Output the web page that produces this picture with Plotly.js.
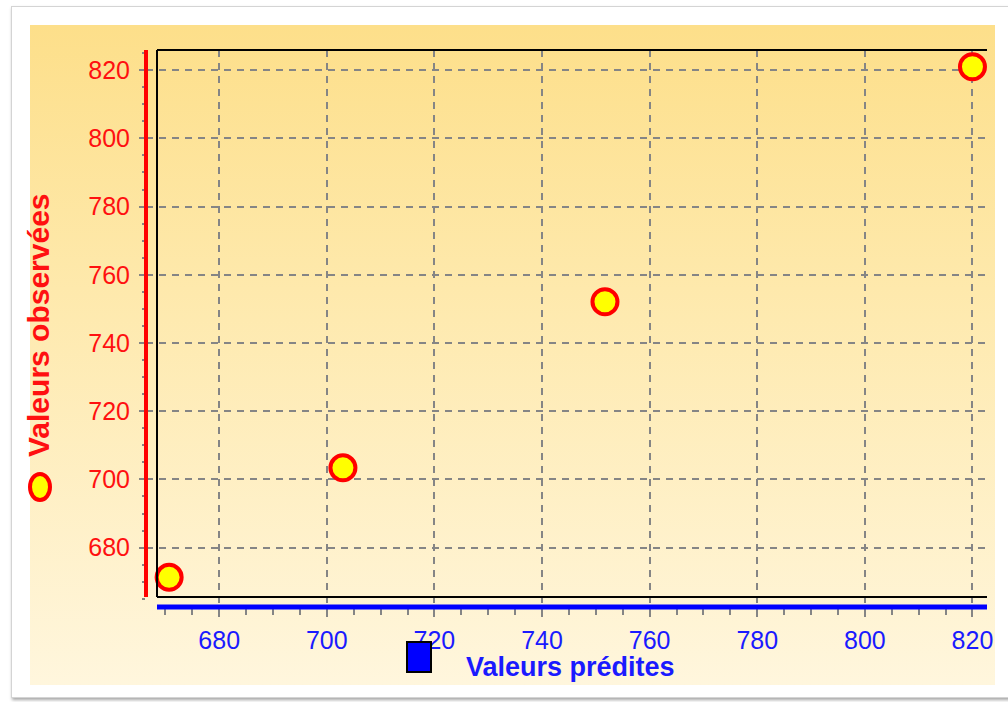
<!DOCTYPE html>
<html>
<head>
<meta charset="utf-8">
<script src="https://cdn.plot.ly/plotly-3.0.1.min.js"></script>
<style>
  html, body { margin: 0; padding: 0; background: #ffffff; }
  #wrap { position: relative; width: 1008px; height: 702px; overflow: hidden; background: #ffffff; }
  #frame { position: absolute; left: 11px; top: 6px; width: 1010px; height: 690px;
           border: 1px solid #d4d4d4; box-shadow: 1px 2px 3px rgba(0,0,0,0.35); background: #ffffff; }
  #panel { position: absolute; left: 30px; top: 25px; width: 965px; height: 660px;
           background: linear-gradient(to bottom, #fddf8a 0%, #fee9ac 40%, #fff6dd 100%); }
  #chart { position: absolute; left: 0; top: 0; width: 1008px; height: 702px; }
</style>
</head>
<body>
<div id="wrap">
  <div id="frame"></div>
  <div id="panel"></div>
  <div id="chart"></div>
</div>
<script>
// Data
const predicted = [670.7, 703.0, 751.7, 820.0];   // Valeurs prédites (x)
const observed  = [671.3, 703.4, 752.1, 821.0];   // Valeurs observées (y)
const xTickVals = [680, 700, 720, 740, 760, 780, 800, 820];
const yTickVals = [680, 700, 720, 740, 760, 780, 800, 820];
const xTitle = "Valeurs prédites";
const yTitle = "Valeurs observées";

const font = "Liberation Sans, Arial, sans-serif";
const gridCol = "#858585";

const trace = {
  x: predicted,
  y: observed,
  type: "scatter",
  mode: "markers",
  marker: { size: 25, color: "#ffff00", line: { color: "#ff0000", width: 4 } },
  hoverinfo: "x+y",
  showlegend: false
};

// frame geometry in paper units (plot area spans red axis line .. right edge)
const fx = 11 / 841;   // black frame left
const fy = 10 / 557;   // black frame bottom

const layout = {
  width: 1008,
  height: 702,
  margin: { l: 146, r: 21, t: 50, b: 95 },
  paper_bgcolor: "rgba(0,0,0,0)",
  plot_bgcolor: "rgba(0,0,0,0)",
  showlegend: false,
  xaxis: {
    range: [666.4, 822.7],
    tickvals: xTickVals,
    ticktext: xTickVals.map(String),
    showgrid: true, gridcolor: gridCol, gridwidth: 2, griddash: "7px,6px",
    zeroline: false, showline: false,
    ticks: "outside", ticklen: 9, tickwidth: 2, tickcolor: gridCol,
    minor: { dtick: 5, tick0: 0, ticks: "outside", ticklen: 7, tickwidth: 2, tickcolor: gridCol, showgrid: false },
    tickfont: { family: font, size: 25, color: "#1a1aff" },
    ticklabelstandoff: 2,
    fixedrange: true
  },
  yaxis: {
    range: [662.6, 825.9],
    tickvals: yTickVals,
    ticktext: yTickVals.map(String),
    showgrid: true, gridcolor: gridCol, gridwidth: 2, griddash: "7px,6px",
    zeroline: false, showline: false,
    ticks: "outside", ticklen: 6, tickwidth: 2, tickcolor: gridCol,
    minor: { dtick: 5, tick0: 0, ticks: "outside", ticklen: 3, tickwidth: 2, tickcolor: gridCol, showgrid: false },
    tickfont: { family: font, size: 25, color: "#ff1010" },
    ticklabelstandoff: 4,
    fixedrange: true
  },
  shapes: [
    // black frame: left, top, bottom
    { type: "line", xref: "paper", yref: "paper", x0: fx, x1: fx, y0: fy, y1: 1, line: { color: "#000000", width: 2 }, layer: "above" },
    { type: "line", xref: "paper", yref: "paper", x0: fx, x1: 1, y0: 1, y1: 1, line: { color: "#000000", width: 2 }, layer: "above" },
    { type: "line", xref: "paper", yref: "paper", x0: fx, x1: 1, y0: fy, y1: fy, line: { color: "#000000", width: 2 }, layer: "above" },
    // red y axis line
    { type: "line", xref: "paper", yref: "paper", x0: 0, x1: 0, y0: fy, y1: 1, line: { color: "#ff0000", width: 4 }, layer: "above" },
    // blue x axis line
    { type: "line", xref: "paper", yref: "paper", x0: fx, x1: 1, y0: 0, y1: 0, line: { color: "#0000ff", width: 5 }, layer: "above" },
    // legend symbol for observed series (next to y title)
    { type: "circle", xref: "paper", yref: "paper", xsizemode: "pixel", ysizemode: "pixel",
      xanchor: (40 - 146) / 841, yanchor: (607 - 487) / 557, x0: -10, x1: 10, y0: -13, y1: 13,
      fillcolor: "#ffff00", line: { color: "#ff0000", width: 4 } },
    // legend symbol for predicted axis (blue square)
    { type: "rect", xref: "paper", yref: "paper", xsizemode: "pixel", ysizemode: "pixel",
      xanchor: (419 - 146) / 841, yanchor: (607 - 657) / 557, x0: -12, x1: 12, y0: -15, y1: 15,
      fillcolor: "#0000ff", line: { color: "#000000", width: 2 } }
  ],
  annotations: [
    { text: "<b>" + xTitle + "</b>", xref: "paper", yref: "paper",
      x: (570 - 146) / 841, y: (607 - 667) / 557, xanchor: "center", yanchor: "middle",
      showarrow: false, font: { family: font, size: 27, color: "#1a1aff" } },
    { text: "<b>" + yTitle + "</b>", xref: "paper", yref: "paper", textangle: -90,
      x: (38 - 146) / 841, y: (607 - 325) / 557, xanchor: "center", yanchor: "middle",
      showarrow: false, font: { family: font, size: 30, color: "#ff1010" } }
  ]
};

Plotly.newPlot("chart", [trace], layout, { displayModeBar: false });
</script>
</body>
</html>
